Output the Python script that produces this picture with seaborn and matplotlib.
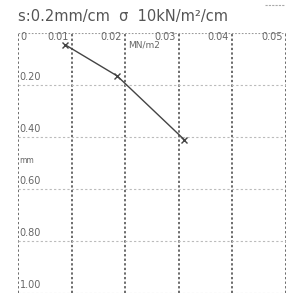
import matplotlib
matplotlib.use('Agg')
import matplotlib.pyplot as plt
from matplotlib.lines import Line2D
import seaborn as sns
import pandas as pd

# values
stress = [0.0088, 0.0185, 0.031]   # MN/m2
settle = [0.045, 0.165, 0.41]      # mm
x_ticks = [0, 0.01, 0.02, 0.03, 0.04, 0.05]
x_labels = ['0', '0.01', '0.02', '0.03', '0.04', '0.05']
y_ticks = [0.2, 0.4, 0.6, 0.8, 1.0]
y_labels = ['0.20', '0.40', '0.60', '0.80', '1.00']

df = pd.DataFrame({'stress': stress, 'settle': settle})

sns.set_style('white')
fig = plt.figure(figsize=(2.94, 2.95), dpi=100)
ax = fig.add_axes([0.061, 0.007, 0.912, 0.881])

sns.lineplot(data=df, x='stress', y='settle', ax=ax, color='#444444',
             lw=1.0, marker='x', markersize=5, markeredgecolor='#444444',
             markeredgewidth=1.0)

ax.set_xlim(0, 0.05)
ax.set_ylim(1.0, 0)
for s in ax.spines.values():
    s.set_visible(False)
ax.set_xticks([])
ax.set_yticks([])
ax.set_xlabel('')
ax.set_ylabel('')

for xv in x_ticks:
    ax.axvline(xv, color='#444444', ls=(0, (1.5, 1.5)), lw=1.1, zorder=0)
ax.axhline(0, color='#999999', ls=(0, (1.5, 1.5)), lw=0.8, zorder=0)
for yv in y_ticks:
    ax.axhline(yv, color='#bbbbbb', ls=(0, (2, 2)), lw=0.8, zorder=0)

tc = '#666666'
for xv, lab in zip(x_ticks, x_labels):
    if xv == 0:
        ax.text(0.0005, 0.017, lab, ha='left', va='center', fontsize=7, color=tc)
    else:
        ax.text(xv - 0.0006, 0.017, lab, ha='right', va='center', fontsize=7, color=tc)
for yv, lab in zip(y_ticks, y_labels):
    ax.text(0.0003, yv - 0.03, lab, ha='left', va='center', fontsize=7, color=tc)

ax.text(0.0205, 0.047, 'MN/m2', ha='left', va='center', fontsize=6.5, color=tc)
ax.text(0.0003, 0.49, 'mm', ha='left', va='center', fontsize=5.5, color=tc)

fig.text(0.061, 0.943, 's:0.2mm/cm  σ  10kN/m²/cm', ha='left', va='center',
         fontsize=10.5, color='#555555')
fig.add_artist(Line2D([0.9, 0.97], [0.983, 0.983], color='#aaaaaa',
                      ls=(0, (2, 1)), lw=0.8))

fig.savefig('out.png', dpi=100)
